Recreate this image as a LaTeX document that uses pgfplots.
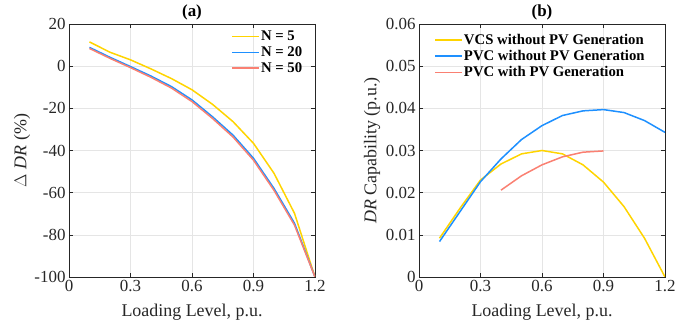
\documentclass[border=0pt]{standalone}
\usepackage{pgfplots}
\pgfplotsset{compat=1.18}
\usepackage{fontspec}
\setmainfont{Liberation Serif}
\definecolor{cyel}{RGB}{255,212,0}
\definecolor{cblu}{RGB}{30,144,255}
\definecolor{cred}{RGB}{250,128,114}
\definecolor{caxis}{RGB}{38,38,38}
\pgfplotsset{
  myax/.style={
    scale only axis, width=246bp, height=253bp,
    xmin=0, xmax=1.2, xtick={0,0.3,0.6,0.9,1.2},
    xticklabels={0,0.3,0.6,0.9,1.2},
    scaled ticks=false,
    tick pos=both, tick align=inside, major tick length=4bp,
    axis line style={caxis, line width=0.8bp},
    tick style={caxis, line width=0.6bp},
    grid=major, grid style={gray!20, line width=0.6bp},
    ticklabel style={font=\fontsize{17}{19}\selectfont, text=caxis},
    label style={font=\fontsize{18}{20}\selectfont, text=caxis},
    xlabel={Loading Level, p.u.},
    x label style={at={(axis description cs:0.5,-0.138)}, anchor=center},
    y label style={at={(axis description cs:-0.191,0.5)}, anchor=center, rotate=0},
    legend style={draw=none, fill=none, font=\fontsize{14.8}{18}\selectfont\bfseries, row sep=2.5bp,
      legend cell align=left, nodes={inner sep=1bp}},
    legend image code/.code={\draw[#1] (0bp,0bp) -- (27bp,0bp);},
    every axis plot/.append style={line width=1.5bp},
  }
}
\begin{document}
\begin{tikzpicture}
\path[use as bounding box] (-69bp,-56bp) rectangle (630bp,277bp);
\begin{axis}[myax, at={(0,0)}, anchor=south west,
  ymin=-100, ymax=20, ytick={-100,-80,-60,-40,-20,0,20},
  yticklabels={-100,-80,-60,-40,-20,0,20},
  ylabel={$\Delta$ \textit{DR} (\%)},
  extra description/.code={\node[font=\fontsize{17}{19}\selectfont\bfseries, text=black] at (0.5,1.045) {(a)};},
  legend style={at={(axis description cs:0.965,0.985)}, anchor=north east}]
\addplot[cyel] coordinates {(0.1,11.5) (0.2,6.6) (0.3,3.0) (0.4,-1.3) (0.5,-5.9) (0.6,-11.2) (0.7,-18.1) (0.8,-26.3) (0.9,-36.6) (1.0,-50.8) (1.1,-69.8) (1.2,-100)};
\addplot[cblu] coordinates {(0.1,8.9) (0.2,4.2) (0.3,-0.2) (0.4,-4.7) (0.5,-9.7) (0.6,-16.0) (0.7,-24.0) (0.8,-32.7) (0.9,-43.7) (1.0,-58.0) (1.1,-74.5) (1.2,-100)};
\addplot[cred] coordinates {(0.1,8.4) (0.2,3.7) (0.3,-0.7) (0.4,-5.3) (0.5,-10.4) (0.6,-16.8) (0.7,-24.8) (0.8,-33.6) (0.9,-44.6) (1.0,-58.9) (1.1,-75.4) (1.2,-100)};
\legend{N = 5, N = 20, N = 50}
\end{axis}
\begin{axis}[myax, at={(350bp,0)}, anchor=south west,
  ymin=0, ymax=0.06, ytick={0,0.01,0.02,0.03,0.04,0.05,0.06},
  yticklabels={0,0.01,0.02,0.03,0.04,0.05,0.06},
  ylabel={\textit{DR} Capability (p.u.)},
  extra description/.code={\node[font=\fontsize{17}{19}\selectfont\bfseries, text=black] at (0.5,1.045) {(b)};},
  legend style={at={(axis description cs:0.05,0.97312)}, anchor=north west}]
\addplot[cyel] coordinates {(0.1,0.0092) (0.2,0.0163) (0.3,0.0230) (0.4,0.0268) (0.5,0.0292) (0.6,0.0300) (0.7,0.0292) (0.8,0.0266) (0.9,0.0225) (1.0,0.0167) (1.1,0.0092) (1.2,0)};
\addplot[cblu] coordinates {(0.1,0.0084) (0.2,0.0155) (0.3,0.0226) (0.4,0.0280) (0.5,0.0326) (0.6,0.0359) (0.7,0.0383) (0.8,0.0394) (0.9,0.0397) (1.0,0.0390) (1.1,0.0371) (1.2,0.0343)};
\addplot[cred] coordinates {(0.4,0.0206) (0.5,0.0240) (0.6,0.0266) (0.7,0.0285) (0.8,0.0296) (0.9,0.0299)};
\legend{VCS without PV Generation, PVC without PV Generation, PVC with PV Generation}
\end{axis}
\end{tikzpicture}
\end{document}
